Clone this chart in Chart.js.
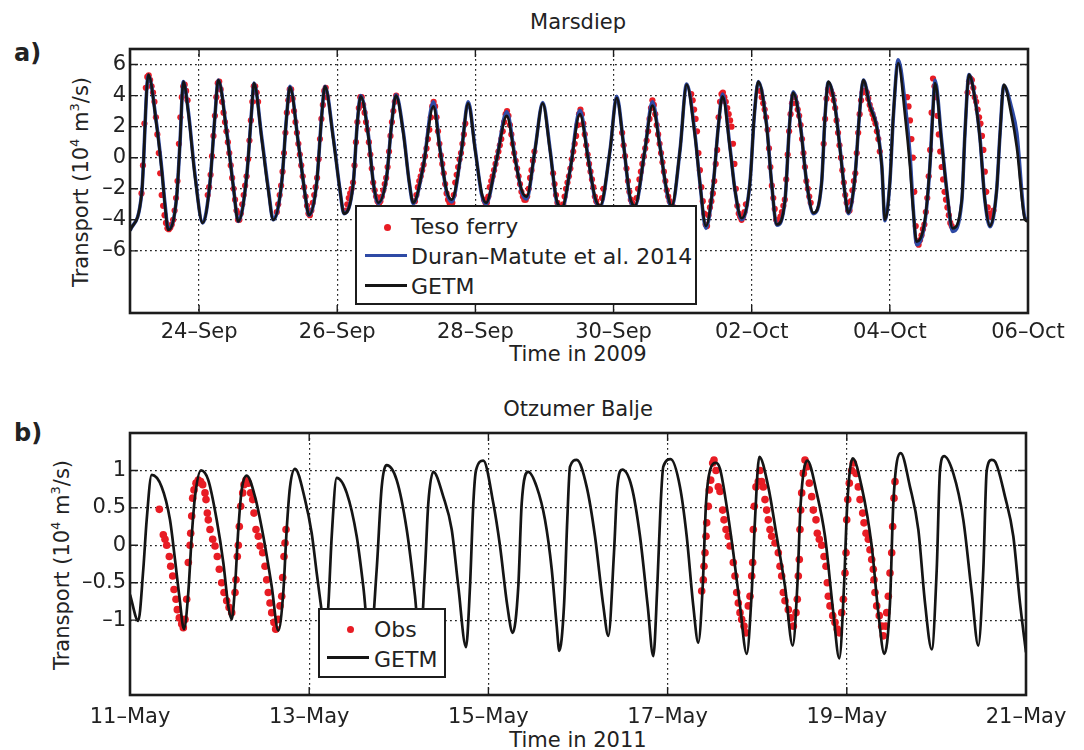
<!DOCTYPE html>
<html>
<head>
<meta charset="utf-8">
<script src="https://cdn.jsdelivr.net/npm/chart.js@4.4.0/dist/chart.umd.min.js"></script>
<style>
  body { margin: 0; background: #fff; width: 1084px; height: 750px; position: relative; overflow: hidden;
         font-family: "DejaVu Sans", sans-serif; color: #222; }
  canvas { position: absolute; left: 0; }
  .txt { position: absolute; white-space: nowrap; line-height: 1; }
  .mid { transform: translateX(-50%); }
  .ylab { position: absolute; white-space: nowrap; line-height: 1; font-size: 21px;
          transform: translate(-50%, -50%) rotate(-90deg); }
  .ylab sup { font-size: 13px; vertical-align: 9px; line-height: 0; }
  .leg { position: absolute; box-sizing: border-box; border: 2.5px solid #1c1c1c; background: #fff; }
  .leg span { position: absolute; white-space: nowrap; line-height: 1; font-size: 22px; }
  .leg i { position: absolute; display: block; }
</style>
</head>
<body>

<div class="txt" style="left:14px;top:41px;font-size:24px;font-weight:bold">a)</div>
<div class="txt mid" style="left:578px;top:12px;font-size:21px">Marsdiep</div>
<div class="ylab" style="left:81px;top:182px">Transport (10<sup>4</sup> m<sup>3</sup>/s)</div>
<div class="txt mid" style="left:578px;top:344px;font-size:21px">Time in 2009</div>

<div class="txt" style="left:14px;top:421px;font-size:24px;font-weight:bold">b)</div>
<div class="txt mid" style="left:578px;top:399px;font-size:21px">Otzumer Balje</div>
<div class="ylab" style="left:62px;top:565px">Transport (10<sup>4</sup> m<sup>3</sup>/s)</div>
<div class="txt mid" style="left:578px;top:730px;font-size:21px">Time in 2011</div>

<canvas id="topChart" width="1084" height="375" style="top:0"></canvas>
<canvas id="botChart" width="1084" height="370" style="top:380px"></canvas>

<div class="leg" style="left:355px;top:205px;width:342px;height:100px">
  <i style="left:27px;top:17px;width:7px;height:7px;border-radius:50%;background:rgb(232,28,36)"></i>
  <span style="left:54px;top:9px">Teso ferry</span>
  <i style="left:8px;top:47px;width:42px;height:3px;background:rgb(46,74,165)"></i>
  <span style="left:54px;top:39px">Duran–Matute et al. 2014</span>
  <i style="left:8px;top:77px;width:42px;height:3px;background:#151515"></i>
  <span style="left:54px;top:69px">GETM</span>
</div>

<div class="leg" style="left:318px;top:608px;width:128px;height:70px">
  <i style="left:27px;top:16px;width:7px;height:7px;border-radius:50%;background:rgb(232,28,36)"></i>
  <span style="left:54px;top:9px">Obs</span>
  <i style="left:7px;top:46px;width:42px;height:3px;background:#151515"></i>
  <span style="left:54px;top:39px">GETM</span>
</div>

<script>
// ---- Marsdiep, hours since 23-Sep-2009 00:00 ----
const topTickHours = [24, 72, 120, 168, 216, 264, 312];
const topTickLabels = ['24–Sep', '26–Sep', '28–Sep', '30–Sep', '02–Oct', '04–Oct', '06–Oct'];
const topYTicks = [-6, -4, -2, 0, 2, 4, 6];

const getmTopH = [0, 4.06, 6.36, 9.29, 11.02, 12.17, 13.30, 16.22, 17.38, 18.53,
  20.26, 22.58, 25.25, 27.79, 29.52, 30.67, 33.60, 35.88, 37.63, 40.54,
  42.29, 43.08, 45.77, 48.05, 49.78, 52.70, 54.43, 55.58, 58.46, 60.79,
  62.18, 64.87, 66.60, 67.75, 70.63, 72.96, 74.35, 77.59, 78.96, 80.16,
  82.80, 84.53, 86.26, 89.18, 90.91, 92.42, 94.94, 97.03, 98.42, 101.9,
  105.4, 107.7, 110.0, 111.8, 115.2, 117.5, 119.9, 122.2, 123.7, 127.4,
  130.9, 133.8, 136.1, 137.8, 140.7, 143.4, 145.9, 148.2, 150.1, 152.9,
  156.3, 159.2, 161.5, 163.3, 166.8, 169.1, 171.4, 173.7, 175.4, 178.9,
  181.5, 184.1, 186.5, 188.2, 191.1, 193.4, 196.3, 198.0, 200.1, 202.7,
  204.4, 205.9, 208.5, 210.2, 212.5, 215.4, 216.9, 218.3, 221.2, 222.9,
  224.7, 227.6, 229.1, 230.4, 232.8, 235.1, 237.4, 240.3, 241.5, 242.6,
  244.9, 246.7, 248.4, 249.6, 251.9, 253.4, 254.8, 257.1, 259.4, 261.2,
  262.3, 264.0, 265.2, 266.9, 269.3, 271.0, 272.1, 273.3, 276.2, 277.9,
  278.9, 279.7, 282.0, 283.9, 285.8, 289.0, 290.1, 291.5, 293.6, 295.3,
  297.0, 298.8, 301.1, 302.3, 303.6, 306.3, 308.1, 311.0, 312.0];

const getmTopV = [-4.7, -2.3, 5.35, 2.0, -0.8, -3.1, -4.65, -2.5, 1.0, 4.9,
  2.9, -1.2, -4.2, -1.6, 2.7, 5.0, 1.6, -1.85, -4.1, -1.2,
  3.1, 4.8, 1.2, -2.1, -4.0, -1.6, 2.7, 4.55, 0.95, -2.3,
  -3.7, -1.6, 2.7, 4.6, 1.2, -2.1, -3.6, -1.6, 2.2, 3.95,
  1.4, -1.6, -2.9, -1.2, 2.2, 4.0, 1.6, -1.6, -2.9, -0.55,
  3.3, 0.5, -2.1, -2.7, 0.5, 3.5, 0.5, -2.3, -2.9, -0.1,
  2.7, -0.1, -2.1, -2.5, 0.5, 3.5, 0.5, -2.7, -3.2, -0.8,
  2.8, -0.1, -2.5, -3.1, 0.5, 3.85, 0.95, -2.5, -3.1, 0.5,
  3.35, 0.7, -2.1, -3.1, 0.5, 4.7, 1.4, -1.6, -4.4, -1.6,
  2.0, 3.95, 0.5, -2.1, -3.9, -1.6, 2.7, 4.9, 2.0, -1.6,
  -4.3, -2.7, 2.0, 4.2, 2.2, -1.6, -3.55, -1.6, 2.7, 4.9,
  3.3, 0.5, -2.3, -3.55, -1.2, 2.7, 5.0, 3.3, 2.0, -0.55,
  -4.0, -1.6, 2.7, 6.1, 2.7, -0.55, -3.35, -5.4, -4.0, -0.55,
  2.7, 4.8, 0.95, -2.3, -4.55, -2.7, 1.6, 5.35, 3.75, 1.2,
  -2.7, -4.4, -2.1, 1.6, 4.7, 2.7, 0.7, -4.0, -4.1];

// Duran-Matute et al. 2014, same time stamps as getmTopH
const duranV = [-4.7, -2.3, 5.3, 2.1, -0.7, -3.0, -4.6, -2.5, 1.0, 4.9,
  3.0, -1.1, -4.2, -1.6, 2.7, 5.0, 1.7, -1.8, -4.1, -1.2,
  3.1, 4.8, 1.3, -2.0, -4.0, -1.6, 2.7, 4.6, 1.0, -2.3,
  -3.7, -1.6, 2.7, 4.6, 1.3, -2.1, -3.6, -1.6, 2.2, 4.0,
  1.5, -1.6, -2.95, -1.2, 2.2, 4.05, 1.7, -1.6, -2.95, -0.55,
  3.6, 0.6, -2.2, -2.85, 0.5, 3.6, 0.6, -2.4, -3.0, -0.1,
  2.95, 0.0, -2.2, -2.65, 0.5, 3.55, 0.6, -2.8, -3.3, -0.8,
  3.05, 0.0, -2.6, -3.2, 0.5, 3.95, 1.0, -2.6, -3.15, 0.5,
  3.6, 0.8, -2.2, -3.2, 0.5, 4.75, 1.5, -1.6, -4.55, -1.6,
  2.0, 4.1, 0.6, -2.1, -4.0, -1.6, 2.7, 4.9, 2.1, -1.6,
  -4.35, -2.7, 2.0, 4.25, 2.3, -1.6, -3.6, -1.6, 2.7, 4.85,
  3.4, 0.6, -2.3, -3.6, -1.2, 2.7, 5.0, 3.4, 2.1, -0.5,
  -4.05, -1.6, 2.6, 6.3, 3.5, 0.2, -3.2, -5.6, -4.1, -0.6,
  2.9, 5.0, 1.1, -2.3, -4.75, -2.8, 1.6, 5.35, 3.8, 1.3,
  -2.7, -4.45, -2.1, 1.6, 4.65, 3.2, 1.6, -3.9, -4.0];

// Teso ferry: daily runs of half-hourly values, first hour of each run
const tesoRunStart = [4, 27, 51, 75, 99, 123, 147, 171, 195, 219, 241, 270, 291];
const tesoRuns = [
  [-2.3, -0.5, 2.2, 4.5, 5.2, 5.3, 5.0, 4.6, 4.2, 3.6, 2.6, 1.5, 0.3, -1.0, -2.4, -3.1, -3.7, -4.2, -4.55, -4.6, -4.5, -4.3, -4.0, -3.4, -2.6, -1.5, 0.9, 2.6, 3.9, 4.6, 4.7, 4.3, 3.7],
  [-2.4, -1.9, -1.1, 0.1, 1.4, 2.7, 3.9, 4.8, 4.9, 4.4, 3.6, 2.9, 2.3, 1.7, 1.0, 0.3, -0.5, -1.3, -2.0, -2.7, -3.4, -4.0, -4.0, -3.6, -3.0, -2.4, -1.8, -1.2, -0.1, 1.1, 2.4, 3.6, 4.6, 4.6, 4.2, 3.6],
  [-3.5, -3.0, -2.4, -1.8, -0.9, 0.3, 1.6, 2.9, 3.7, 4.4, 4.4, 3.8, 3.0, 2.3, 1.6, 0.9, 0.2, -0.5, -1.2, -1.9, -2.5, -3.1, -3.6, -3.7, -3.4, -2.9, -2.4, -1.9, -1.3, -0.1, 1.2, 2.5, 3.4, 4.3, 4.5, 3.9],
  [-3.4, -3.0, -2.6, -2.3, -2.0, -1.6, -0.5, 1.0, 2.3, 3.2, 3.9, 3.9, 3.4, 2.9, 2.3, 1.8, 1.0, 0.2, -0.7, -1.6, -2.1, -2.5, -2.8, -2.95, -2.8, -2.5, -2.1, -1.7, -1.3, -0.6, 0.4, 1.4, 2.3, 3.0, 3.6, 4.0],
  [-2.8, -2.4, -1.9, -1.5, -1.2, -0.8, -0.45, 0.1, 0.6, 1.2, 1.8, 2.6, 3.3, 3.6, 3.3, 2.6, 1.7, 0.9, 0.15, -0.4, -1.0, -1.7, -2.3, -2.7, -2.9, -3.0, -2.9, -2.4, -1.6, -1.1, -0.6, -0.1, 0.3, 0.9, 1.5, 2.2],
  [-2.7, -2.9, -2.9, -2.5, -1.9, -1.5, -1.2, -0.8, -0.4, 0.0, 0.4, 0.8, 1.2, 1.7, 2.3, 2.8, 3.0, 2.7, 2.1, 1.5, 0.9, 0.3, -0.2, -0.7, -1.2, -1.7, -2.2, -2.5, -2.7, -2.7, -2.5, -2.0, -1.3, -0.8, -0.2, 0.4],
  [-1.0, -1.7, -2.4, -2.9, -3.2, -3.3, -3.3, -3.0, -2.5, -2.0, -1.6, -1.2, -0.7, -0.1, 0.4, 0.9, 1.4, 2.1, 2.8, 3.1, 2.8, 2.2, 1.5, 0.8, 0.2, -0.4, -0.9, -1.4, -1.9, -2.5, -2.8, -3.1, -3.2, -3.2, -2.6, -2.0],
  [1.6, 0.8, 0.1, -0.7, -1.5, -2.2, -2.7, -2.9, -3.1, -3.1, -2.6, -2.0, -1.4, -0.9, -0.4, 0.1, 0.6, 1.1, 1.7, 2.5, 3.2, 3.7, 3.4, 2.8, 2.1, 1.5, 0.9, 0.3, -0.3, -0.9, -1.5, -2.1, -2.5, -2.8, -3.0, -3.1],
  [4.1, 3.7, 3.1, 2.5, 1.7, 0.3, -0.8, -1.9, -2.8, -3.6, -4.3, -4.4, -3.7, -3.2, -2.8, -2.3, -1.5, -0.4, 0.5, 2.6, 3.6, 4.1, 4.2, 3.9, 3.6, 3.2, 2.8, 2.4, 2.0, 0.9, -0.4, -2.0, -3.1, -3.6, -3.8, -4.0, -3.8, -3.5, -3.0],
  [4.3, 3.9, 3.5, 3.1, 2.6, 1.8, 0.6, -0.6, -1.8, -2.6, -3.3, -4.0, -4.2, -4.1, -3.8, -3.5, -3.1, -2.7, -1.4, 0.2, 1.7, 2.8, 3.5, 4.0, 3.9, 3.5, 3.1, 2.7, 2.1, 1.2, 0.3, -0.6, -1.5, -2.0, -2.5, -2.9],
  [0.9, 2.5, 3.8, 4.4, 4.5, 4.3, 4.1, 3.7, 3.2, 2.4, 1.6, 0.8, 0.0, -0.8, -1.6, -2.4, -2.9, -3.4, -3.4, -2.8, -2.1, -1.5, -1.0, 0.3, 1.6, 2.8, 3.7, 4.2, 4.3, 4.3, 4.2, 3.8, 3.4, 3.1, 2.8, 2.5, 2.2, 1.7, 1.2, 0.4],
  [3.9, 3.3, 2.4, 1.2, 0.0, -2.2, -4.4, -5.4, -5.6, -5.3, -5.0, -4.6, -4.3, -3.5, -2.6, -1.2, 0.5, 2.9, 5.1, 4.6, 3.9, 2.7, 1.5, 0.4, -0.6, -1.4, -2.2, -2.7, -3.2, -3.7, -4.2, -4.4],
  [4.2, 4.9, 5.1, 5.0, 4.5, 3.9, 3.6, 3.1, 2.6, 2.2, 1.4, 0.5, -0.9, -2.2, -3.2, -3.6, -3.8, -3.6, -3.4]
];

// ---- Otzumer Balje, hours since 11-May-2011 00:00 ----
const botTickHours = [0, 48, 96, 144, 192, 240];
const botTickLabels = ['11–May', '13–May', '15–May', '17–May', '19–May', '21–May'];
const botYTicks = [-1, -0.5, 0, 0.5, 1];

const getmBotH = [0, 2.22, 3.56, 4.47, 5.81, 8.49, 10.71, 12.05, 13.21, 14.46,
  15.62, 16.53, 17.41, 19.02, 20.97, 23.22, 24.99, 26.33, 27.24, 28.13,
  29.01, 29.92, 31.26, 33.48, 35.71, 37.96, 39.72, 41.06, 41.97, 42.86,
  44.20, 46.88, 48.67, 50.01, 51.16, 52.23, 53.12, 54.03, 55.37, 58.05,
  60.72, 62.49, 64.29, 66.08, 67.42, 68.76, 71.44, 74.12, 76.34, 77.68,
  79.02, 79.90, 81.24, 83.92, 86.17, 87.94, 90.0, 91.07, 91.96, 92.68,
  94.64, 97.32, 99.11, 101.07, 102.51, 104.01, 104.92, 106.69, 108.94, 111.16,
  112.96, 114.30, 114.99, 116.25, 117.13, 117.86, 119.65, 122.33, 124.55, 126.78,
  128.12, 129.64, 130.53, 131.87, 134.38, 136.61, 138.67, 140.17, 141.24, 142.15,
  142.85, 144.83, 147.32, 149.12, 150.88, 152.22, 153.40, 154.29, 155.36, 156.96,
  158.04, 159.83, 161.60, 163.39, 165.19, 166.53, 167.41, 168.56, 170.97, 173.22,
  175.45, 177.51, 178.74, 179.65, 181.42, 183.94, 186.16, 188.39, 189.99, 191.25,
  192.13, 193.58, 195.99, 198.67, 200.44, 202.05, 203.57, 204.46, 206.44, 208.93,
  211.16, 212.95, 214.75, 216.09, 216.96, 218.04, 220.53, 223.21, 225.46, 227.22,
  228.57, 229.48, 230.82, 231.70, 234.38, 236.60, 238.39, 240.0];

const getmBotV = [-0.66, -1.01, -0.32, 0.34, 0.94, 0.78, 0.34, -0.19, -0.68, -1.12,
  -0.63, 0.12, 0.65, 1.0, 0.87, 0.34, -0.23, -0.81, -0.99, -0.55,
  0.21, 0.74, 0.93, 0.65, 0.12, -0.55, -1.14, -0.63, 0.21, 0.78,
  1.02, 0.61, 0.16, -0.37, -0.81, -1.25, -0.81, 0.12, 0.9, 0.7,
  0.12, -0.55, -1.35, -0.32, 0.78, 1.07, 0.87, 0.21, -0.68, -1.35,
  -0.32, 0.56, 0.98, 0.65, 0.21, -0.55, -1.36, -0.55, 0.56, 1.0,
  1.13, 0.56, -0.01, -0.81, -1.17, -0.55, 0.56, 0.98, 0.78, 0.34,
  -0.32, -1.08, -1.41, -0.81, 0.34, 1.05, 1.14, 0.78, 0.12, -0.81,
  -1.21, -0.1, 0.78, 1.01, 0.78, 0.12, -0.81, -1.48, -0.55, 0.56,
  1.05, 1.15, 0.78, 0.12, -0.81, -1.30, -0.55, 0.56, 1.0, 1.10,
  1.02, 0.52, -0.1, -0.81, -1.45, -0.63, 0.34, 1.18, 0.78, 0.12,
  -0.55, -1.34, -0.55, 0.56, 1.13, 0.7, 0.12, -0.9, -1.51, -0.55,
  0.56, 1.16, 0.78, -0.01, -0.9, -1.45, -0.77, 0.56, 1.23, 0.78,
  0.21, -0.77, -1.39, -0.32, 1.0, 1.19, 0.96, 0.34, -0.63, -1.34,
  -0.32, 1.0, 1.14, 1.12, 0.65, 0.12, -0.77, -1.43];

const obsH = [7.85, 8.92, 9.38, 9.83, 10.53, 10.90, 11.44, 11.79, 12.32, 12.67,
  13.21, 13.85, 14.28, 14.73, 15.19, 15.62, 16.07, 16.26, 16.53, 16.79,
  17.14, 17.68, 18.29, 18.94, 19.47, 20.09, 20.36, 20.71, 20.97, 21.43,
  22.15, 22.77, 23.38, 23.92, 24.56, 25.18, 25.90, 26.54, 27.24, 28.13,
  28.39, 28.74, 29.01, 29.28, 29.65, 30.19, 30.54, 31.07, 31.69, 32.33,
  32.87, 33.21, 33.75, 34.37, 34.82, 35.54, 36.16, 36.62, 37.04, 37.50,
  37.96, 38.57, 39.03, 39.72, 40.18, 40.64, 40.90, 41.25, 41.52, 41.79,
  153.13, 153.56, 153.75, 154.02, 154.29, 154.47, 154.90, 155.17, 155.54, 156.08,
  156.43, 156.96, 157.58, 158.04, 158.76, 159.11, 159.65, 160.26, 160.71, 161.60,
  162.05, 162.51, 162.94, 163.39, 163.85, 164.46, 165.00, 165.62, 166.07, 166.53,
  166.79, 166.96, 167.22, 167.68, 168.29, 168.75, 169.20, 169.63, 170.09, 170.54,
  170.97, 171.43, 171.88, 172.77, 173.65, 174.11, 174.56, 174.99, 175.45, 176.33,
  176.98, 177.67, 178.39, 178.74, 179.01, 179.28, 179.46, 179.65, 179.92, 180.35,
  180.80, 181.42, 181.96, 182.60, 183.03, 183.75, 184.10, 184.64, 185.28, 185.90,
  186.43, 186.78, 187.05, 187.50, 188.23, 188.84, 189.46, 190.00, 190.64, 191.07,
  191.52, 191.79, 191.98, 192.25, 192.67, 193.32, 193.75, 194.47, 195.08, 195.54,
  196.26, 196.61, 197.15, 197.77, 198.21, 198.67, 199.10, 199.28, 199.55, 200.01,
  200.70, 201.35, 201.78, 202.42, 202.69, 203.12, 203.57, 204.03, 204.29, 204.64,
  204.91];

const obsV = [0.48, 0.14, 0.08, 0.0, -0.15, -0.28, -0.41, -0.59, -0.72, -0.86,
  -0.97, -1.05, -1.1, -0.99, -0.72, -0.23, 0.0, 0.16, 0.39, 0.63,
  0.74, 0.83, 0.87, 0.85, 0.81, 0.70, 0.61, 0.43, 0.34, 0.21,
  0.08, -0.01, -0.15, -0.32, -0.5, -0.63, -0.74, -0.83, -0.9, -0.63,
  -0.46, -0.15, 0.0, 0.25, 0.52, 0.70, 0.81, 0.87, 0.83, 0.70,
  0.61, 0.43, 0.21, 0.12, -0.01, -0.1, -0.28, -0.46, -0.63, -0.77,
  -0.9, -1.03, -1.12, -0.99, -0.81, -0.68, -0.43, -0.15, 0.03, 0.21,
  -0.61, -0.46, -0.28, -0.1, 0.12, 0.3, 0.52, 0.74, 0.87, 1.1,
  1.14, 1.0, 0.78, 0.72, 0.47, 0.34, 0.21, 0.12, -0.01, -0.23,
  -0.41, -0.63, -0.77, -0.9, -0.99, -1.08, -1.17, -0.81, -0.68, -0.41,
  -0.23, 0.21, 0.52, 0.78, 0.85, 1.0, 0.85, 0.78, 0.61, 0.47,
  0.34, 0.21, 0.12, 0.03, -0.1, -0.28, -0.41, -0.63, -0.74, -0.86,
  -0.97, -1.08, -0.9, -0.72, -0.41, -0.19, 0.21, 0.47, 0.7, 0.96,
  1.14, 1.05, 0.83, 0.65, 0.47, 0.34, 0.16, 0.08, 0.0, -0.15,
  -0.28, -0.5, -0.68, -0.81, -0.94, -1.03, -1.12, -1.17, -0.9, -0.72,
  -0.37, -0.1, 0.34, 0.61, 0.83, 1.0, 1.1, 0.96, 0.78, 0.61,
  0.43, 0.3, 0.16, 0.08, -0.06, -0.19, -0.32, -0.46, -0.63, -0.81,
  -0.94, -1.08, -1.21, -1.08, -0.9, -0.68, -0.37, -0.1, 0.25, 0.63,
  0.85];

const FONT = '"DejaVu Sans", sans-serif';
const INK = '#222';
const RED = 'rgb(232, 28, 36)';
const BLUE = 'rgb(46, 74, 165)';
const BLACK = '#151515';

function pairs(xs, ys) {
  return xs.map((x, i) => ({ x: x, y: ys[i] }));
}

function fmt(v) {
  return v < 0 ? '–' + Math.abs(v) : String(v);
}

// box round the plot and the inward tick marks
const frame = {
  id: 'frame',
  afterDraw(chart) {
    const { ctx, chartArea: a, scales: { x, y } } = chart;
    ctx.save();
    ctx.strokeStyle = '#1c1c1c';
    ctx.lineWidth = 1.4;
    ctx.beginPath();
    x.ticks.forEach(t => {
      const px = x.getPixelForValue(t.value);
      ctx.moveTo(px, a.bottom); ctx.lineTo(px, a.bottom - 8);
      ctx.moveTo(px, a.top); ctx.lineTo(px, a.top + 8);
    });
    y.ticks.forEach(t => {
      const py = y.getPixelForValue(t.value);
      ctx.moveTo(a.left, py); ctx.lineTo(a.left + 8, py);
      ctx.moveTo(a.right, py); ctx.lineTo(a.right - 8, py);
    });
    ctx.stroke();
    ctx.lineWidth = 2.6;
    ctx.strokeRect(a.left, a.top, a.right - a.left, a.bottom - a.top);
    ctx.restore();
  }
};

function panel(id, p) {
  return new Chart(document.getElementById(id), {
    type: 'line',
    data: { datasets: p.datasets },
    options: {
      responsive: false,
      animation: false,
      events: [],
      devicePixelRatio: 1,
      layout: { padding: p.pad },
      plugins: { legend: { display: false }, tooltip: { enabled: false }, title: { display: false } },
      scales: {
        x: {
          type: 'linear', min: p.xMin, max: p.xMax,
          afterBuildTicks: s => { s.ticks = p.xTicks.map(v => ({ value: v })); },
          afterFit: s => { s.height = p.xH; },
          ticks: {
            autoSkip: false, maxRotation: 0, padding: p.xPad, color: INK,
            font: { family: FONT, size: 21 },
            callback: v => p.xLabels[p.xTicks.indexOf(v)]
          },
          grid: { drawTicks: false, color: '#222', lineWidth: 1.2 },
          border: { display: false, dash: [1.8, 3.2] }
        },
        y: {
          type: 'linear', min: p.yMin, max: p.yMax,
          afterBuildTicks: s => { s.ticks = p.yTicks.map(v => ({ value: v })); },
          afterFit: s => { s.width = 130; },
          ticks: { padding: 4, color: INK, font: { family: FONT, size: 21 }, callback: v => fmt(v) },
          grid: { drawTicks: false, color: '#222', lineWidth: 1.2 },
          border: { display: false, dash: [1.8, 3.2] }
        }
      }
    },
    plugins: [frame]
  });
}

const tesoPts = [];
tesoRuns.forEach((run, r) => {
  run.forEach((v, i) => tesoPts.push({ x: tesoRunStart[r] + i * 0.5, y: v }));
});

panel('topChart', {
  pad: { left: 0, right: 56, top: 49, bottom: 0 },
  xMin: 0, xMax: 312, xTicks: topTickHours, xLabels: topTickLabels, xH: 62, xPad: 7,
  yMin: -10, yMax: 7, yTicks: topYTicks,
  datasets: [
    { label: 'GETM', data: pairs(getmTopH, getmTopV), borderColor: BLACK, borderWidth: 2.7,
      pointRadius: 0, cubicInterpolationMode: 'monotone' },
    { label: 'Duran-Matute et al. 2014', data: pairs(getmTopH, duranV), borderColor: BLUE, borderWidth: 3.6,
      pointRadius: 0, cubicInterpolationMode: 'monotone' },
    { label: 'Teso ferry', data: tesoPts, showLine: false, pointRadius: 3.1, pointBorderWidth: 0,
      pointBackgroundColor: RED, borderColor: RED }
  ]
});

panel('botChart', {
  pad: { left: 0, right: 58, top: 53, bottom: 0 },
  xMin: 0, xMax: 240, xTicks: botTickHours, xLabels: botTickLabels, xH: 55, xPad: 10,
  yMin: -2, yMax: 1.5, yTicks: botYTicks,
  datasets: [
    { label: 'GETM', data: pairs(getmBotH, getmBotV), borderColor: BLACK, borderWidth: 2.7,
      pointRadius: 0, cubicInterpolationMode: 'monotone' },
    { label: 'Obs', data: pairs(obsH, obsV), showLine: false, pointRadius: 3.8, pointBorderWidth: 0,
      pointBackgroundColor: RED, borderColor: RED }
  ]
});
</script>
</body>
</html>
